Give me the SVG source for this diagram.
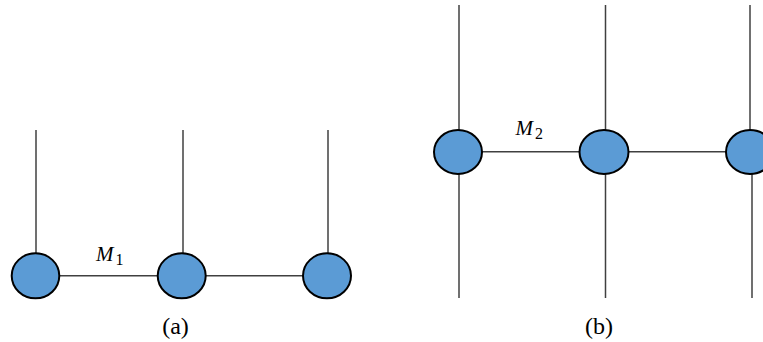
<svg xmlns="http://www.w3.org/2000/svg" width="763" height="342" viewBox="0 0 763 342">
<style>
.ln{stroke:#404040;stroke-width:1.5;fill:none}
.nd{fill:#5B9BD5;stroke:#000;stroke-width:2}
.lbl{font-family:"Liberation Serif","DejaVu Serif",serif;fill:#000}
.m{font-style:italic;font-size:21px}
.sub{font-size:16px}
.cap{font-size:24px}
</style>
<rect width="763" height="342" fill="#fff"/>
<g id="connectors">
<line class="ln" x1="36" y1="130" x2="36" y2="260"/>
<line class="ln" x1="183" y1="130" x2="183" y2="260"/>
<line class="ln" x1="328" y1="130" x2="328" y2="260"/>
<line class="ln" x1="36" y1="275.7" x2="327" y2="275.7"/>
<line class="ln" x1="459" y1="5" x2="459" y2="298"/>
<line class="ln" x1="605.5" y1="5" x2="605.5" y2="298"/>
<line class="ln" x1="750" y1="5" x2="750" y2="152"/>
<line class="ln" x1="752" y1="152" x2="752" y2="298"/>
<line class="ln" x1="458" y1="151.7" x2="750" y2="151.7"/>
</g>
<g id="a1"><ellipse class="nd" cx="35.5" cy="275.8" rx="23.8" ry="22.5"/></g>
<g id="a2"><ellipse class="nd" cx="181.7" cy="275.8" rx="24" ry="22.5"/></g>
<g id="a3"><ellipse class="nd" cx="327" cy="275.8" rx="24" ry="22.5"/></g>
<g id="b1"><ellipse class="nd" cx="458" cy="152" rx="24" ry="22"/></g>
<g id="b2"><ellipse class="nd" cx="604" cy="152" rx="24.5" ry="22"/></g>
<g id="b3"><ellipse class="nd" cx="750" cy="152" rx="24" ry="22"/></g>
<g id="labels">
<text class="lbl" x="96" y="260.5"><tspan class="m">M</tspan><tspan class="sub" dx="2" dy="4">1</tspan></text>
<text class="lbl" x="515.5" y="134.5"><tspan class="m">M</tspan><tspan class="sub" dx="2" dy="4">2</tspan></text>
<text class="lbl cap" x="175.5" y="334" text-anchor="middle">(a)</text>
<text class="lbl cap" x="599" y="334" text-anchor="middle">(b)</text>
</g>
</svg>
